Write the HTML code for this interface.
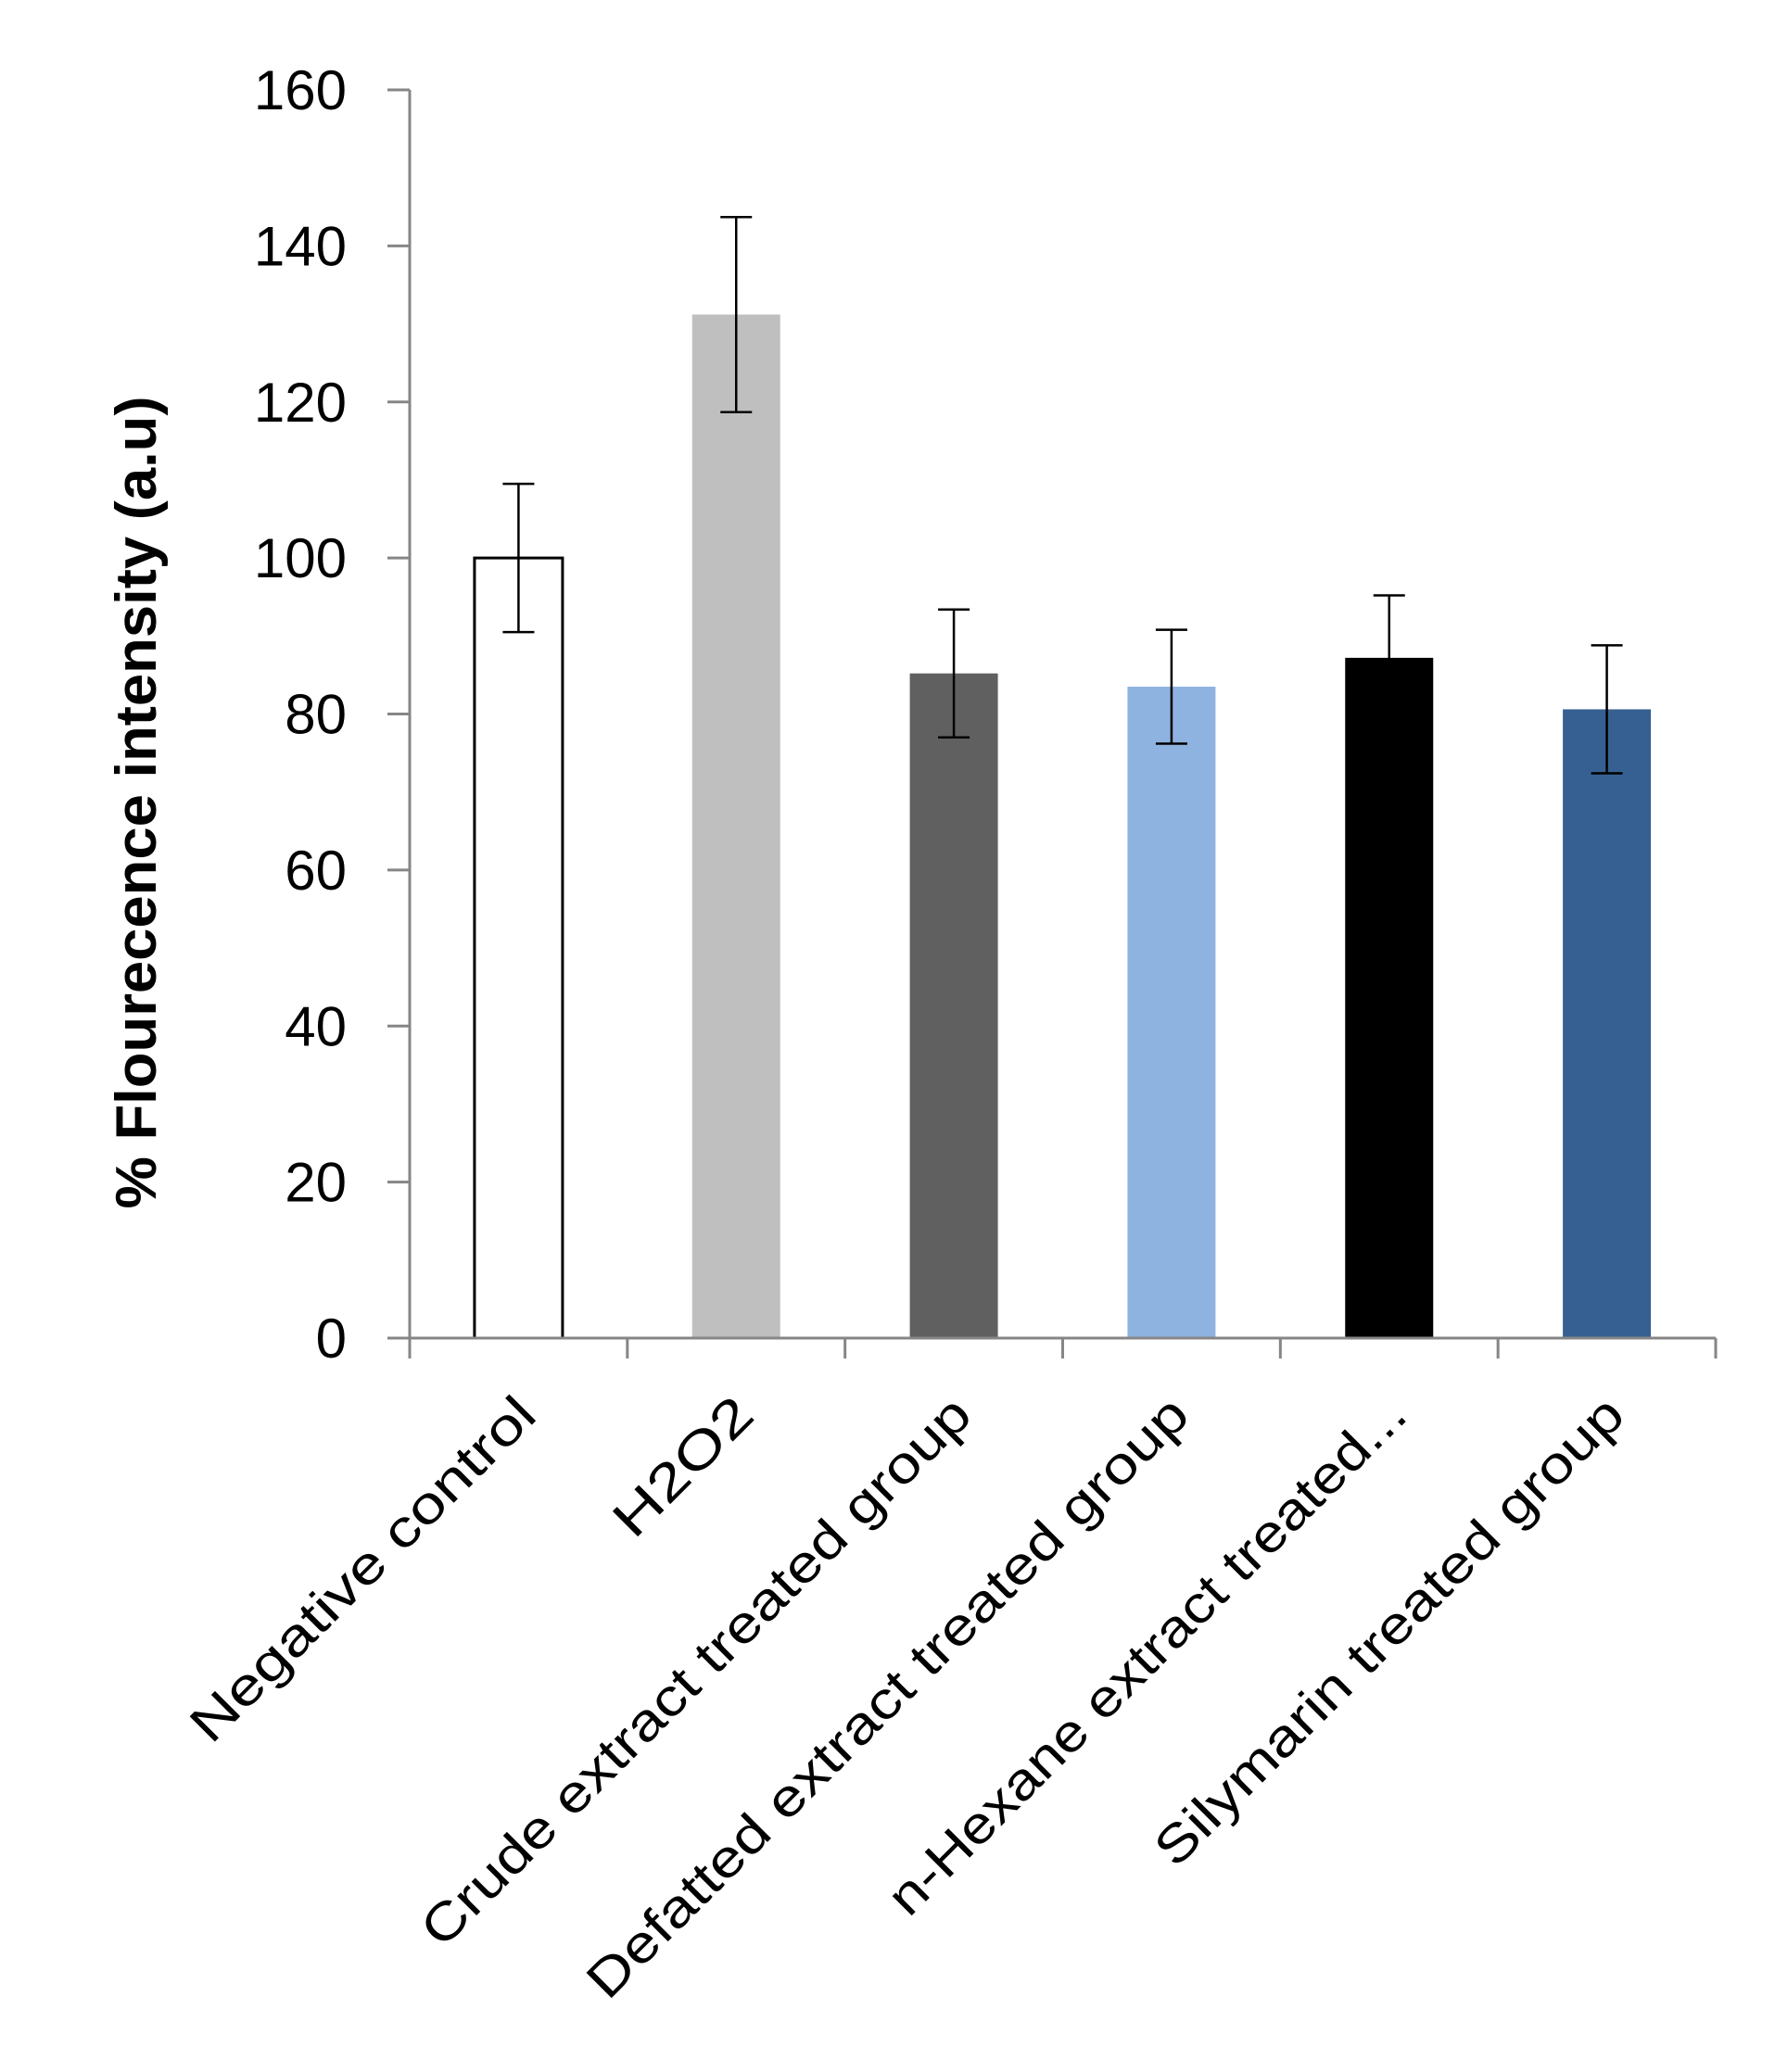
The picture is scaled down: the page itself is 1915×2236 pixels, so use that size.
<!DOCTYPE html>
<html><head><meta charset="utf-8">
<style>
html,body{margin:0;padding:0;background:#fff;}
svg{display:block;font-family:"Liberation Sans",sans-serif;}
</style></head>
<body>
<svg id="chart" width="1915" height="2236" viewBox="0 0 1915 2236" xmlns="http://www.w3.org/2000/svg">
<rect width="1915" height="2236" fill="#fff"/>
<g id="plot"></g>
</svg>
<script>
const categories = ["Negative control","H2O2","Crude extract treated group","Defatted extract treated group","n-Hexane extract treated...","Silymarin treated group"];
const values = [100, 131.2, 85.2, 83.5, 87.2, 80.6];
const errors = [9.5, 12.5, 8.2, 7.3, 8.0, 8.2];
const yTicks = [0,20,40,60,80,100,120,140,160];
const colors = ["#ffffff","#bfbfbf","#606060","#8eb3e0","#000000","#376092"];
const labelLengths = [500,187,812,891,764,689];

const NS="http://www.w3.org/2000/svg";
const g=document.getElementById('plot');
const X0=442, X1=1851, Y0=1444, Y160=97, YMAX=160;
const catW=(X1-X0)/categories.length;
function y(v){return Y0-(v/YMAX)*(Y0-Y160);}
function xc(i){return X0+catW*(i+0.5);}
function mk(tag,attrs){const e=document.createElementNS(NS,tag);for(const k in attrs)e.setAttribute(k,attrs[k]);g.appendChild(e);return e;}

// y axis
let ax=mk('line',{x1:X0,y1:Y160,x2:X0,y2:Y0,stroke:'#868686','stroke-width':3});


yTicks.forEach(t=>{
  const tk=mk('line',{x1:X0-24,y1:y(t),x2:X0,y2:y(t),stroke:'#868686','stroke-width':3});
  
  
  const tl=mk('text',{x:374,y:y(t)+21,'text-anchor':'end','font-size':60,fill:'#000'});
  tl.textContent=t;
  
  
});
// y title
const yt=mk('text',{x:0,y:0,transform:'translate(168,866) rotate(-90)','text-anchor':'middle','font-size':62,'font-weight':'bold',textLength:877,lengthAdjust:'spacingAndGlyphs'});
yt.textContent='% Flourecence intensity (a.u)';



// bars
const barW=95;
categories.forEach((c,i)=>{
  const cx=xc(i), top=y(values[i]);
  const b=mk('rect',{x:cx-barW/2,y:top,width:barW,height:Y0-top,fill:colors[i]});
  if(i===0){b.setAttribute('stroke','#000');b.setAttribute('stroke-width',3);}
  
  
  const hi=y(values[i]+errors[i]), lo=y(values[i]-errors[i]);
  const e1=mk('line',{x1:cx,y1:hi,x2:cx,y2:lo,stroke:'#000','stroke-width':2.5});
  
  
  [hi,lo].forEach(yy=>{
    const cap=mk('line',{x1:cx-17,y1:yy,x2:cx+17,y2:yy,stroke:'#000','stroke-width':2.5});
    
    
  });
  const lb=mk('text',{x:0,y:0,transform:'translate('+(cx+22)+',1530) rotate(-45)','text-anchor':'end','font-size':56,textLength:labelLengths[i],lengthAdjust:'spacingAndGlyphs'});
  lb.textContent=c;
  
  
});
// x axis
const xa=mk('line',{x1:X0-24,y1:Y0,x2:X1,y2:Y0,stroke:'#868686','stroke-width':3});


for(let i=0;i<=categories.length;i++){
  const t=mk('line',{x1:X0+catW*i,y1:Y0,x2:X0+catW*i,y2:Y0+22,stroke:'#868686','stroke-width':3});
  
  
}
</script>
</body></html>
